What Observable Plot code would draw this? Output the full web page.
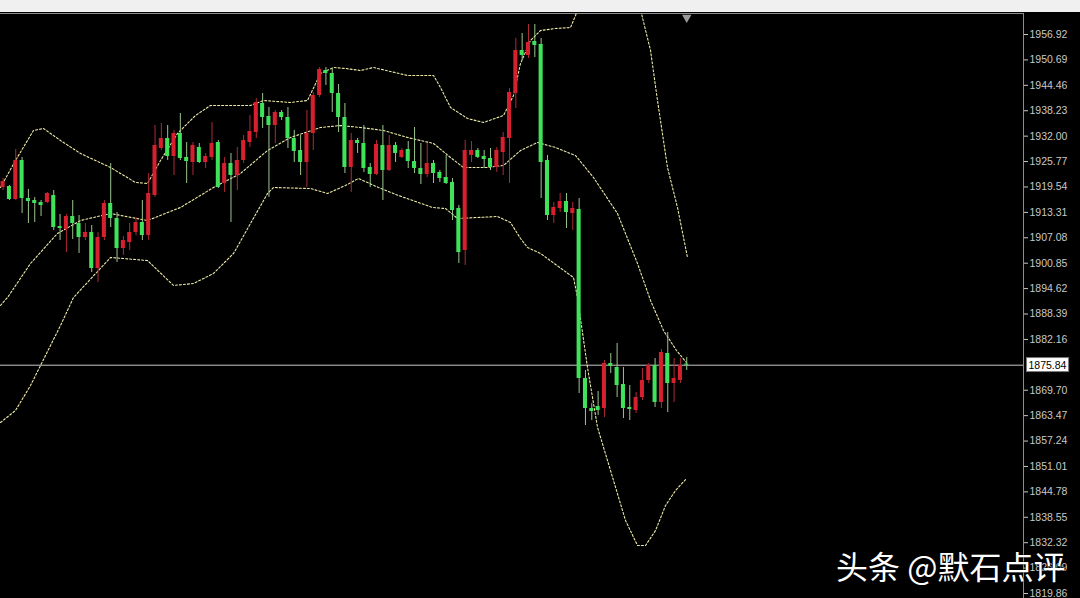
<!DOCTYPE html>
<html><head><meta charset="utf-8">
<script src="https://cdn.jsdelivr.net/npm/d3@7"></script>
<script src="https://cdn.jsdelivr.net/npm/@observablehq/plot@0.6"></script>
<style>
html,body{margin:0;padding:0;background:#000;width:1080px;height:598px;overflow:hidden}
#top{height:12px;background:#f0f0f0}
#chart svg{display:block}
</style></head><body>
<div id="top"></div>
<div id="chart"></div>
<script>
// OHLC per bar (bar index = position in arrays)
const opens = [1919.41,1919.65,1916.47,1926.03,1916.71,1916.22,1915.73,1915.73,1917.45,1909.85,
1909.11,1912.30,1910.58,1907.15,1908.38,1899.55,1907.15,1915.49,1911.81,1904.45,
1905.92,1908.38,1910.83,1907.64,1917.45,1928.97,1931.42,1927.01,1932.65,1926.77,
1925.54,1929.22,1925.54,1926.77,1930.44,1920.39,1925.29,1922.35,1926.03,1930.44,
1932.89,1940.01,1936.82,1934.61,1937.80,1936.57,1931.42,1928.48,1925.54,1932.65,
1941.97,1948.10,1947.36,1942.46,1936.57,1924.31,1930.93,1930.20,1924.31,1922.60,
1929.71,1923.58,1929.71,1926.77,1928.73,1925.78,1924.07,1922.60,1925.29,1923.09,
1921.86,1920.64,1914.26,1903.96,1927.26,1928.48,1927.01,1926.52,1924.31,1927.99,
1931.42,1942.46,1953.00,1951.77,1955.21,1954.47,1926.03,1912.54,1914.26,1915.98,
1913.03,1914.02,1872.58,1865.22,1865.71,1865.22,1876.26,1875.28,1871.11,1865.47,
1864.73,1867.92,1872.09,1875.77,1866.69,1878.71,1871.35,1872.09,1876.13];
const highs = [1921.62,1919.90,1928.73,1926.77,1918.92,1916.96,1916.22,1918.18,1918.67,1912.79,
1912.79,1916.22,1912.54,1910.58,1910.09,1908.38,1916.22,1925.29,1913.28,1907.40,
1910.58,1912.05,1916.22,1922.84,1934.61,1935.10,1934.61,1933.39,1937.55,1930.44,
1930.44,1930.20,1927.75,1935.35,1930.93,1926.77,1927.75,1929.22,1932.16,1937.06,
1941.23,1942.46,1939.02,1938.29,1938.29,1939.02,1933.39,1932.16,1938.29,1942.70,
1948.83,1948.83,1948.59,1944.66,1940.01,1932.65,1931.42,1934.61,1925.29,1930.93,
1934.61,1932.16,1930.44,1928.97,1930.69,1934.12,1930.20,1930.20,1926.03,1923.58,
1927.26,1921.62,1915.00,1930.93,1930.69,1928.97,1928.48,1928.97,1929.22,1932.89,
1943.68,1955.94,1957.17,1959.38,1959.38,1955.94,1927.26,1915.73,1917.94,1917.94,
1915.73,1916.71,1874.54,1866.45,1869.39,1876.99,1878.71,1881.16,1875.28,1870.86,
1869.15,1875.03,1876.26,1877.48,1879.69,1883.86,1877.48,1877.48,1877.73];
const lows = [1918.67,1916.22,1916.22,1913.03,1910.58,1910.83,1912.30,1915.49,1908.87,1906.41,
1903.47,1906.66,1903.23,1906.41,1898.57,1896.12,1906.41,1909.60,1901.02,1902.74,
1903.96,1907.64,1906.41,1906.41,1916.96,1928.48,1926.03,1922.35,1926.03,1920.39,
1922.35,1925.29,1924.07,1926.03,1919.16,1918.18,1910.83,1918.67,1925.29,1929.22,
1931.42,1933.88,1916.96,1930.20,1935.84,1928.97,1925.54,1922.35,1919.41,1928.48,
1941.48,1944.42,1937.80,1932.89,1922.84,1918.18,1927.75,1923.09,1919.41,1922.35,
1916.22,1923.33,1925.54,1926.52,1924.07,1922.84,1920.15,1921.86,1920.39,1920.64,
1920.15,1911.32,1900.78,1900.28,1925.54,1926.52,1924.07,1923.58,1923.09,1922.35,
1920.39,1938.78,1950.55,1951.04,1951.28,1916.71,1911.32,1910.58,1913.28,1909.36,
1908.87,1868.90,1861.05,1862.28,1863.51,1863.02,1873.80,1867.92,1862.77,1862.28,
1864.00,1867.18,1871.35,1865.47,1865.22,1864.24,1866.69,1871.35,1874.54];
const closes = [1920.88,1916.47,1926.03,1916.71,1915.98,1915.49,1915.00,1917.94,1909.60,1909.36,
1912.30,1910.58,1907.15,1908.38,1899.55,1907.15,1915.49,1911.81,1904.45,1906.41,
1908.38,1910.83,1907.64,1917.94,1929.71,1931.42,1927.01,1932.65,1926.52,1925.78,
1929.71,1925.54,1927.01,1930.20,1919.41,1925.29,1922.35,1926.03,1930.93,1933.14,
1940.25,1936.57,1934.61,1937.80,1936.57,1931.42,1928.24,1925.54,1932.65,1941.97,
1948.34,1947.36,1942.46,1936.57,1924.31,1930.93,1930.20,1924.07,1922.60,1929.95,
1923.58,1929.71,1927.75,1928.48,1925.78,1924.07,1922.60,1925.29,1922.84,1921.62,
1920.39,1913.77,1903.47,1928.48,1928.48,1926.77,1926.27,1924.31,1928.48,1931.67,
1942.70,1953.00,1951.77,1954.96,1954.23,1925.54,1912.54,1914.51,1915.98,1913.28,
1914.26,1872.58,1865.22,1864.49,1864.73,1876.26,1875.52,1870.86,1865.22,1864.98,
1867.92,1872.09,1875.77,1866.69,1878.95,1871.35,1872.58,1875.77,1875.84];

// Bollinger bands, sampled where read (bar position, price)
const upperIdx = [-0.41,1.96,4.8,6.38,9.07,12.23,16.97,20.92,22.81,24.87,27.55,30.39,32.76,39.08,41.14,45.4,48.09,50.14,52.2,54.09,56.46,58.52,63.89,68.0,69.1,70.68,73.36,75.89,79.05,80.63,81.74,83.32,84.9,87.27,89.64,90.43,91.4,95,100.2,101.0,102.28,103.38,104.96,106.54,108.12];
const upperVal = [1919.41,1926.03,1933.39,1933.88,1930.93,1927.75,1924.31,1920.64,1920.39,1926.03,1932.65,1937.06,1939.52,1939.52,1940.74,1940.25,1940.74,1947.36,1948.83,1948.59,1948.10,1948.83,1946.87,1946.87,1943.93,1939.02,1936.33,1935.35,1937.06,1941.97,1949.81,1955.45,1957.90,1958.39,1958.64,1961.58,1966.49,null,1966.49,1961.09,1953.00,1940.74,1924.31,1914.51,1902.25];
const middleIdx = [-0.41,0.7,4.33,8.59,12.23,16.97,22.81,28.03,33.24,37.5,41.77,45.4,50.14,53.3,56.46,60.1,63.89,68.0,70.68,72.73,76.53,79.05,81.74,84.42,87.27,90.43,93.27,97.06,100.22,102.28,104.33,106.38,107.96];
const middleVal = [1890.48,1892.44,1900.78,1908.13,1911.32,1913.03,1911.32,1914.51,1919.41,1922.84,1928.48,1931.67,1934.12,1934.61,1934.12,1933.39,1931.67,1930.20,1926.77,1924.31,1924.31,1924.80,1928.48,1930.44,1929.22,1927.26,1921.86,1913.03,1900.78,1891.70,1884.35,1879.44,1876.50];
const lowerIdx = [-0.41,1.96,4.33,6.7,9.07,11.12,16.97,22.81,26.92,30.08,33.24,36.4,41.77,42.72,48.57,51.26,54.09,56.14,59.31,62.47,67.84,69.89,71.79,78.11,80.16,81.74,82.84,84.9,90.11,90.74,92.32,93.91,95.96,98.33,100.22,101.49,103.07,104.65,106.23,107.96];
const lowerVal = [1861.79,1864.73,1870.86,1878.22,1885.57,1892.44,1902.25,1901.51,1895.39,1895.87,1898.33,1903.23,1917.94,1919.41,1919.16,1917.94,1919.90,1921.62,1919.41,1917.45,1914.51,1914.26,1911.81,1912.30,1910.83,1906.90,1904.70,1903.23,1897.34,1892.44,1875.28,1860.57,1850.02,1837.76,1831.63,1831.63,1835.31,1841.44,1845.12,1848.06];

const tickValues = [1956.92,1950.69,1944.46,1938.23,1932.00,1925.77,1919.54,1913.31,1907.08,1900.85,1894.62,1888.39,1882.16,1869.70,1863.47,1857.24,1851.01,1844.78,1838.55,1832.32,1826.09,1819.86];
const lastPrice = closes[closes.length - 1];
const watermark = "头条 @默石点评";

const RED = "#d6202e", GREEN = "#3fe35a", RED_WICK = "#b02a38", GREEN_WICK = "#9cc58e";
const BAND = "#eeeba6";

const candles = opens.map((o, i) => ({i, o, h: highs[i], l: lows[i], c: closes[i], up: closes[i] >= o}));
const band = (idx, val) => idx.map((i, k) => ({i, v: val[k]}));
const bandStyle = {x: "i", y: "v", stroke: BAND, strokeWidth: 1.1, strokeDasharray: "2,2", clip: true};

const chart = Plot.plot({
  width: 1080, height: 586,
  marginLeft: 0, marginRight: 57, marginTop: 1, marginBottom: 0,
  x: {domain: [-0.41, 161.2], axis: null},
  y: {domain: [1818.64, 1962.07], axis: null},
  style: {background: "#000", color: "#c8c8c8", fontFamily: "Liberation Sans", fontSize: "10.5px"},
  marks: [
    Plot.frame({stroke: "#8c8c8c", insetLeft: -2, insetBottom: -2}),
    Plot.ruleY([lastPrice], {stroke: "#c8c8c8", strokeWidth: 1}),
    Plot.line(band(upperIdx, upperVal), bandStyle),
    Plot.line(band(middleIdx, middleVal), bandStyle),
    Plot.line(band(lowerIdx, lowerVal), bandStyle),
    Plot.ruleX(candles, {x: "i", y1: "l", y2: "h", stroke: d => d.up ? RED_WICK : GREEN_WICK, strokeWidth: 1}),
    Plot.rect(candles, {x1: d => d.i - 0.32, x2: d => d.i + 0.32, y1: "o", y2: "c", fill: d => d.up ? RED : GREEN}),
    Plot.dot([candles.length - 1], {x: d => d, frameAnchor: "top", dy: 4, symbol: "triangle", rotate: 180, r: 3.5, fill: "#9a9a9a", stroke: "none"}),
    Plot.axisY(tickValues, {anchor: "right", tickSize: 4, tickPadding: 2, tickFormat: d => d.toFixed(2), fontSize: 10.5}),
    Plot.text([lastPrice], {y: d => d, frameAnchor: "right", dx: 5, textAnchor: "start", text: d => d.toFixed(2), fill: "#000", fontSize: 10.5}),
    Plot.text([watermark], {frameAnchor: "bottom-right", dx: 42, dy: -30, textAnchor: "end", lineAnchor: "middle", fontSize: 32, fill: "#fff", fontFamily: "Noto Sans CJK SC", stroke: "rgba(0,0,0,0.45)", strokeWidth: 2, paintOrder: "stroke"})
  ]
});
document.getElementById("chart").append(chart);

// white box behind the current price label
const lbl = [...chart.querySelectorAll("text")].find(t => t.textContent === lastPrice.toFixed(2));
if (lbl) {
  const bb = lbl.getBBox();
  const r = document.createElementNS("http://www.w3.org/2000/svg", "rect");
  r.setAttribute("x", bb.x - 2); r.setAttribute("y", bb.y - 1);
  r.setAttribute("width", bb.width + 4); r.setAttribute("height", bb.height + 2);
  r.setAttribute("fill", "#fff"); r.setAttribute("stroke", "#777");
  if (lbl.getAttribute("transform")) r.setAttribute("transform", lbl.getAttribute("transform"));
  lbl.parentNode.insertBefore(r, lbl);
}
</script>
</body></html>
